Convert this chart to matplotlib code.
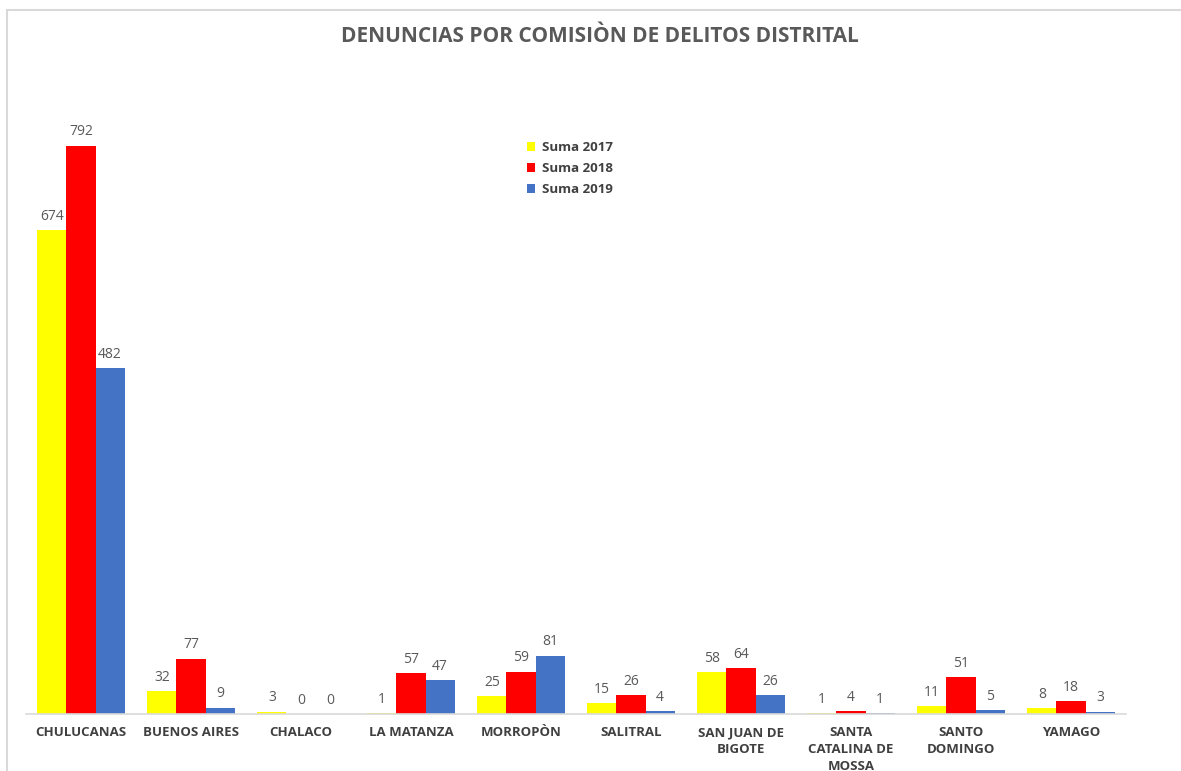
import matplotlib.pyplot as plt
import numpy as np
from matplotlib.patches import Rectangle

distritos = ["CHULUCANAS", "BUENOS AIRES", "CHALACO", "LA MATANZA", "MORROPÒN",
             "SALITRAL", "SAN JUAN DE\nBIGOTE", "SANTA\nCATALINA DE\nMOSSA",
             "SANTO\nDOMINGO", "YAMAGO"]
suma_2017 = [674, 32, 3, 1, 25, 15, 58, 1, 11, 8]
suma_2018 = [792, 77, 0, 57, 59, 26, 64, 4, 51, 18]
suma_2019 = [482, 9, 0, 47, 81, 4, 26, 1, 5, 3]
series = ["Suma 2017", "Suma 2018", "Suma 2019"]
colores = ["#FFFF00", "#FF0000", "#4472C4"]

plt.rcParams['font.family'] = ['Open Sans', 'DejaVu Sans']

fig = plt.figure(figsize=(11.81, 7.71), dpi=100)
# chart border
fig.patches.append(Rectangle((7 / 1181, -0.01), 1.02, 1 - 10 / 771 + 0.01,
                             transform=fig.transFigure, fill=False,
                             edgecolor="#D9D9D9", linewidth=1.5))

ax = fig.add_axes([26 / 1181, 57 / 771, 1100 / 1181, 646 / 771])
x = np.arange(len(distritos))
w = 0.264
for k, (vals, nombre, col) in enumerate(zip([suma_2017, suma_2018, suma_2019], series, colores)):
    pos = x + (k - 1) * w
    ax.bar(pos, vals, width=w, color=col, label=nombre)
    for p, v in zip(pos, vals):
        ax.text(p, v + 9, str(v), ha="center", va="bottom", fontsize=10, color="#595959")

ax.set_xlim(-0.5, len(distritos) - 0.5)
ax.set_ylim(0, 900)
ax.set_yticks([])
for s in ["top", "right", "left"]:
    ax.spines[s].set_visible(False)
ax.spines["bottom"].set_color("#D9D9D9")
ax.spines["bottom"].set_linewidth(1.2)
ax.set_xticks(x)
ax.set_xticklabels(distritos, fontsize=9.5, fontweight="bold", color="#404040", linespacing=1.35)
ax.tick_params(axis="x", length=0, pad=9)

fig.text(0.508, 0.953, "DENUNCIAS POR COMISIÒN DE DELITOS DISTRITAL", ha="center", va="center",
         fontsize=15, fontweight="bold", color="#595959")

leg = ax.legend(loc="upper left", bbox_to_anchor=(0.445, 0.905), frameon=False,
                handlelength=0.6, handleheight=0.6, handletextpad=0.5,
                labelspacing=0.6, prop={"weight": "bold", "size": 9.5})
for t in leg.get_texts():
    t.set_color("#404040")

fig.savefig("out.png", dpi=100)
